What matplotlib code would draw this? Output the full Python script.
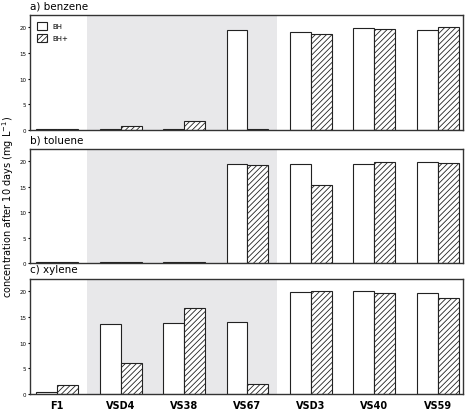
import matplotlib
matplotlib.use("Agg")
import matplotlib.pyplot as plt
import numpy as np

categories = ["F1", "VSD4", "VS38", "VS67", "VSD3", "VS40", "VS59"]
benzene_bh = [0.2, 0.2, 0.2, 19.4, 19.1, 19.9, 19.4]
benzene_bhp = [0.2, 0.8, 1.7, 0.2, 18.7, 19.6, 20.0]
toluene_bh = [0.15, 0.15, 0.15, 19.4, 19.5, 19.4, 19.9]
toluene_bhp = [0.15, 0.1, 0.1, 19.3, 15.4, 19.9, 19.7]
xylene_bh = [0.4, 13.6, 13.9, 14.0, 19.8, 20.0, 19.7]
xylene_bhp = [1.7, 6.1, 16.7, 2.0, 20.0, 19.6, 18.7]
titles = ["a) benzene", "b) toluene", "c) xylene"]

plt.rcParams['hatch.linewidth'] = 0.6
fig = plt.figure(figsize=(4.74, 4.14), dpi=100)
W, H = 474, 414
boxes = [(16, 131), (150, 264), (280, 395)]
x = np.arange(len(categories))
w = 0.33
data = [(benzene_bh, benzene_bhp), (toluene_bh, toluene_bhp), (xylene_bh, xylene_bhp)]
for i, ((top, bot), (bh, bhp), t) in enumerate(zip(boxes, data, titles)):
    ax = fig.add_axes([30 / W, 1 - bot / H, 433 / W, (bot - top) / H])
    ax.axvspan(0.47, 3.47, color="#e8e8ea", zorder=0, lw=0)
    b1 = ax.bar(x - w / 2, bh, w, color="white", edgecolor="#222", lw=0.8, label="BH", zorder=2)
    b2 = ax.bar(x + w / 2, bhp, w, color="white", edgecolor="#222", lw=0.8, hatch="//////", label="BH+", zorder=2)
    ax.set_xlim(-0.43, 6.4)
    ax.set_ylim(0, 22.4)
    ax.set_yticks([0, 5, 10, 15, 20])
    ax.tick_params(axis="y", labelsize=4, length=1.5, pad=1)
    ax.set_xticks(x)
    if i < 2:
        ax.set_xticklabels([])
        ax.tick_params(axis="x", length=0)
    else:
        ax.set_xticklabels(categories, fontsize=7, fontweight="bold")
        ax.tick_params(axis="x", length=0, pad=4)
    for s in ax.spines.values():
        s.set_linewidth(1.0)
        s.set_color("#333")
    ax.text(0.0, 1.04, t, transform=ax.transAxes, fontsize=7.5, ha="left", va="bottom")
    if i == 0:
        ax.legend(loc="upper left", fontsize=5, frameon=False, handlelength=1.4, handleheight=1.4,
                  borderaxespad=0.6, labelspacing=0.6)
fig.text(0.018, 0.5, "concentration after 10 days (mg L$^{-1}$)", rotation=90, va="center", ha="center", fontsize=7)
fig.savefig("out.png", dpi=100)
